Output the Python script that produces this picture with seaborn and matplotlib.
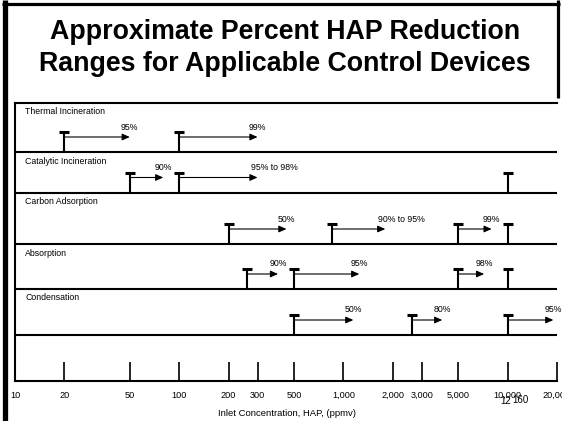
import matplotlib
matplotlib.use("Agg")
import matplotlib.pyplot as plt
import matplotlib.transforms as mtransforms
from matplotlib.lines import Line2D
from matplotlib.ticker import NullLocator
import numpy as np
import pandas as pd
import seaborn as sns

# ---- data -------------------------------------------------------------
devices = ["Thermal Incineration", "Catalytic Incineration", "Carbon Adsorption",
           "Absorption", "Condensation"]

# one entry per range marker: device row, starting inlet concentration (ppmv),
# end of the arrow (ppmv, None = no arrow) and the reduction it achieves
range_device = [0, 0, 1, 1, 1, 2, 2, 2, 2, 3, 3, 3, 3, 4, 4, 4]
range_start = [20, 100, 50, 100, 10000, 200, 850, 5000, 10000,
               260, 500, 5000, 10000, 500, 2600, 10000]
range_end = [50, 300, 80, 300, None, 450, 1800, 8000, None,
             400, 1250, 7200, None, 1150, 4000, 19000]
range_label = ["95%", "99%", "90%", "95% to 98%", "", "50%", "90% to 95%", "99%", "",
               "90%", "95%", "98%", "", "50%", "80%", "95%"]

tick_values = [10, 20, 50, 100, 200, 300, 500, 1000, 2000, 3000, 5000, 10000, 20000]
tick_labels = ["10", "20", "50", "100", "200", "300", "500", "1,000", "2,000",
               "3,000", "5,000", "10,000", "20,000"]

title_lines = ["Approximate Percent HAP Reduction",
               "Ranges for Applicable Control Devices"]
x_title = "Inlet Concentration, HAP, (ppmv)"

# ---- layout (pixel units) ---------------------------------------------
W, H = 562, 421
row_top = [278, 229, 188.5, 137, 92]
row_base = [229, 188.5, 137, 92, 46]
STEM, ARROW_Y, LABEL_Y = 20, 15, 25

sns.set_theme(style="white")
plt.rcParams["font.family"] = ["Liberation Sans", "DejaVu Sans"]
plt.rcParams["text.color"] = "black"
plt.rcParams["xtick.color"] = "black"
plt.rcParams["xtick.labelcolor"] = "black"
SMALL = 6.3

fig = plt.figure(figsize=(W / 100, H / 100), dpi=100)
fig.patch.set_facecolor("white")


def fx(px):
    return px / W


def fy(py):
    return 1 - py / H


# slide frame
for xs, ys, lw in [((2, 560), (3.5, 3.5), 2.3),
                   ((4.5, 4.5), (0, 421), 3.8),
                   ((557.5, 557.5), (0, 98), 2.3)]:
    fig.add_artist(Line2D([fx(x) for x in xs], [fy(y) for y in ys],
                          transform=fig.transFigure, color="black", lw=lw,
                          solid_capstyle="butt"))

# title
for i, line in enumerate(title_lines):
    fig.text(fx(285), fy(39 + 32 * i), line, ha="center", va="baseline",
             fontsize=19.3, fontweight="bold", color="black")

ax = fig.add_axes([fx(15), 40 / H, 542 / W, 278 / H])
ax.set_facecolor("white")

df = pd.DataFrame({
    "device": [devices[d] for d in range_device],
    "start": range_start,
    "end": range_end,
    "label": range_label,
    "base": [row_base[d] for d in range_device],
})
df["cap"] = df["base"] + STEM

# stems and caps of the range markers
ax.vlines(df["start"], df["base"], df["cap"], color="black", lw=1.5)
sns.scatterplot(data=df, x="start", y="cap", marker="_", s=60, linewidth=2.2,
                color="black", ax=ax, legend=False, zorder=3)

# arrows and reduction labels
for _, r in df.iterrows():
    if r["end"] is None or pd.isna(r["end"]):
        continue
    ay = r["base"] + ARROW_Y
    ax.annotate("", xy=(r["end"], ay), xytext=(r["start"], ay),
                arrowprops=dict(arrowstyle="-|>,head_length=0.45,head_width=0.2",
                                lw=0.8, color="black", shrinkA=0, shrinkB=0,
                                mutation_scale=10))
    if " to " in r["label"]:
        tr = ax.transData + mtransforms.ScaledTranslation(-7 / 100, 0, fig.dpi_scale_trans)
        ax.text(r["end"], r["base"] + LABEL_Y, r["label"], ha="left", va="center",
                fontsize=SMALL, transform=tr)
    else:
        ax.text(r["end"], r["base"] + LABEL_Y, r["label"], ha="center", va="center",
                fontsize=SMALL)

# row separators and device names
blend = mtransforms.blended_transform_factory(ax.transAxes, ax.transData)
for name, top, base in zip(devices, row_top, row_base):
    ax.axhline(base, color="black", lw=1.5)
    ax.text(0.019, top - 9, name, transform=blend, ha="left", va="center",
            fontsize=SMALL)

ax.set_xscale("log")
ax.set_xlim(10, 20000)
ax.set_ylim(0, 278)
ax.set_xticks(tick_values, tick_labels)
ax.xaxis.set_minor_locator(NullLocator())
ax.set_yticks([])
ax.set_xlabel("")
ax.set_ylabel("")
ax.tick_params(axis="x", direction="in", length=14, width=1.2, color="black",
               pad=7, labelsize=6.6, labelcolor="black", bottom=True)
for side in ["left", "bottom", "top"]:
    ax.spines[side].set_visible(True)
    ax.spines[side].set_color("black")
    ax.spines[side].set_linewidth(1.5)
ax.spines["right"].set_visible(False)

fig.text(fx(287), fy(414), x_title, ha="center", va="center", fontsize=6.8)

# page number stamp
fig.text(fx(506), fy(401), "12", ha="center", va="center", fontsize=7)
fig.text(fx(520), fy(400), "160", ha="center", va="center", fontsize=7)

fig.savefig("out.png", dpi=100)
